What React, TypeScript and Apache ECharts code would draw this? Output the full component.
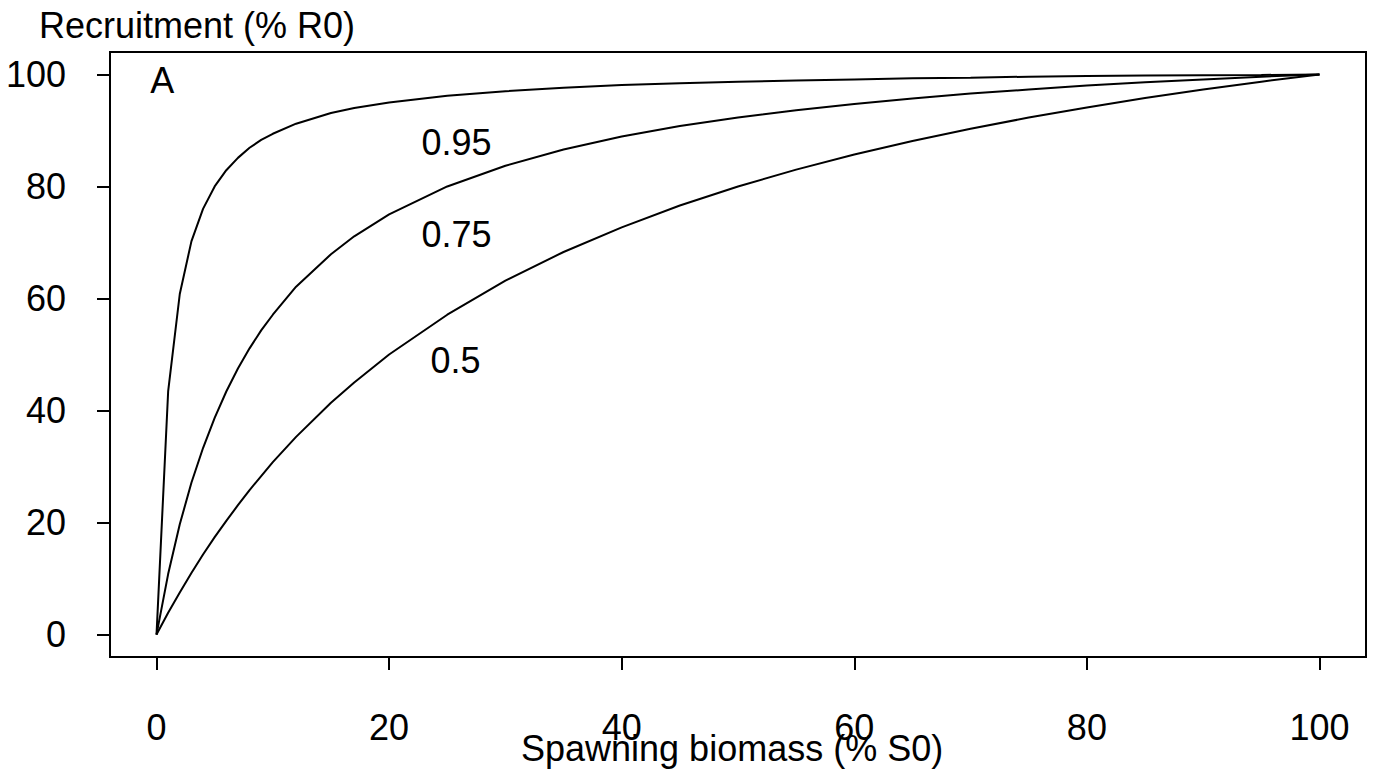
import React, { useEffect, useRef } from "react";
import * as echarts from "echarts";

// Spawning biomass (% S0)
const spawningBiomass = [0, 1, 2, 3, 4, 5, 6, 7, 8, 9, 10, 12, 15, 17, 20, 25, 30, 35, 40, 45, 50, 55, 60, 65, 70, 75, 80, 85, 90, 95, 100];
// Recruitment (% R0) for each steepness
const steep095 = [0, 43.4, 60.8, 70.2, 76.0, 80.0, 82.9, 85.1, 86.9, 88.3, 89.4, 91.2, 93.1, 94.0, 95.0, 96.2, 97.0, 97.6, 98.1, 98.4, 98.7, 98.9, 99.1, 99.3, 99.4, 99.6, 99.7, 99.8, 99.85, 99.9, 100];
const steep075 = [0, 10.8, 19.7, 27.1, 33.3, 38.7, 43.4, 47.5, 51.1, 54.3, 57.1, 62.1, 67.9, 71.1, 75.0, 80.0, 83.7, 86.6, 88.9, 90.8, 92.3, 93.6, 94.7, 95.7, 96.6, 97.3, 98.0, 98.6, 99.1, 99.6, 100];
const steep05 = [0, 3.9, 7.5, 11.0, 14.3, 17.4, 20.3, 23.1, 25.8, 28.3, 30.8, 35.3, 41.4, 45.0, 50.0, 57.1, 63.2, 68.3, 72.7, 76.6, 80.0, 83.0, 85.7, 88.1, 90.3, 92.3, 94.1, 95.8, 97.3, 98.7, 100];

const xTicks = [0, 20, 40, 60, 80, 100];
const yTicks = [0, 20, 40, 60, 80, 100];

const curveLabels = ["0.95", "0.75", "0.5"];
const panelLabel = "A";
// label anchor positions in data coordinates
const curveLabelPos = [
  [25.8, 87.8],
  [25.8, 71.4],
  [25.7, 48.9],
];
const panelLabelPos = [0.5, 99];

const FONT = "'Liberation Sans', Arial, Helvetica, sans-serif";
const FS = 36;

export default function App() {
  const ref = useRef<HTMLDivElement>(null);
  useEffect(() => {
    if (!ref.current) return;
    const chart = echarts.init(ref.current, null, { renderer: "svg" });
    const mkLine = (ys: number[], name: string) => ({
      type: "line",
      name,
      data: spawningBiomass.map((x, i) => [x, ys[i]]),
      showSymbol: false,
      symbol: "none",
      smooth: false,
      lineStyle: { color: "#000", width: 2 },
      z: 3,
    });
    const textPts = [
      ...curveLabels.map((t, i) => ({ value: curveLabelPos[i], name: t })),
      { value: panelLabelPos, name: panelLabel },
    ];
    chart.setOption({
      animation: false,
      backgroundColor: "#fff",
      textStyle: { fontFamily: FONT, color: "#000" },
      grid: {
        left: 110,
        top: 52,
        right: 11,
        bottom: 123,
        show: true,
        borderColor: "#000",
        borderWidth: 2,
        backgroundColor: "transparent",
      },
      xAxis: {
        type: "value",
        min: -4,
        max: 104,
        position: "bottom",
        axisLine: { show: false, onZero: false },
        splitLine: { show: false },
        axisTick: {
          show: true,
          length: 13,
          inside: false,
          customValues: xTicks,
          lineStyle: { color: "#000", width: 2 },
        },
        axisLabel: {
          show: true,
          customValues: xTicks,
          margin: 52,
          fontSize: FS,
          color: "#000",
          fontFamily: FONT,
        },
      },
      yAxis: {
        type: "value",
        min: -4,
        max: 104,
        position: "left",
        axisLine: { show: false, onZero: false },
        splitLine: { show: false },
        axisTick: {
          show: true,
          length: 13,
          inside: false,
          customValues: yTicks,
          lineStyle: { color: "#000", width: 2 },
        },
        axisLabel: {
          show: true,
          customValues: yTicks,
          margin: 44,
          fontSize: FS,
          color: "#000",
          fontFamily: FONT,
        },
      },
      graphic: [
        {
          type: "text",
          left: 39,
          top: 7,
          style: {
            text: "Recruitment (% R0)",
            font: `${FS}px ${FONT}`,
            fill: "#000",
          },
        },
        {
          type: "text",
          left: 521,
          top: 730,
          style: {
            text: "Spawning biomass (% S0)",
            font: `${FS}px ${FONT}`,
            fill: "#000",
          },
        },
      ],
      series: [
        mkLine(steep095, "0.95"),
        mkLine(steep075, "0.75"),
        mkLine(steep05, "0.5"),
        {
          type: "scatter",
          data: textPts,
          symbolSize: 0,
          silent: true,
          itemStyle: { opacity: 1, color: "#000" },
          label: {
            show: true,
            position: "inside",
            formatter: (p: any) => p.name,
            fontSize: FS,
            color: "#000",
            opacity: 1,
            fontFamily: FONT,
          },
          z: 4,
        },
      ],
    });
    return () => chart.dispose();
  }, []);
  return (
    <div
      ref={ref}
      style={{ position: "fixed", left: 0, top: 0, width: 1377, height: 780 }}
    />
  );
}
